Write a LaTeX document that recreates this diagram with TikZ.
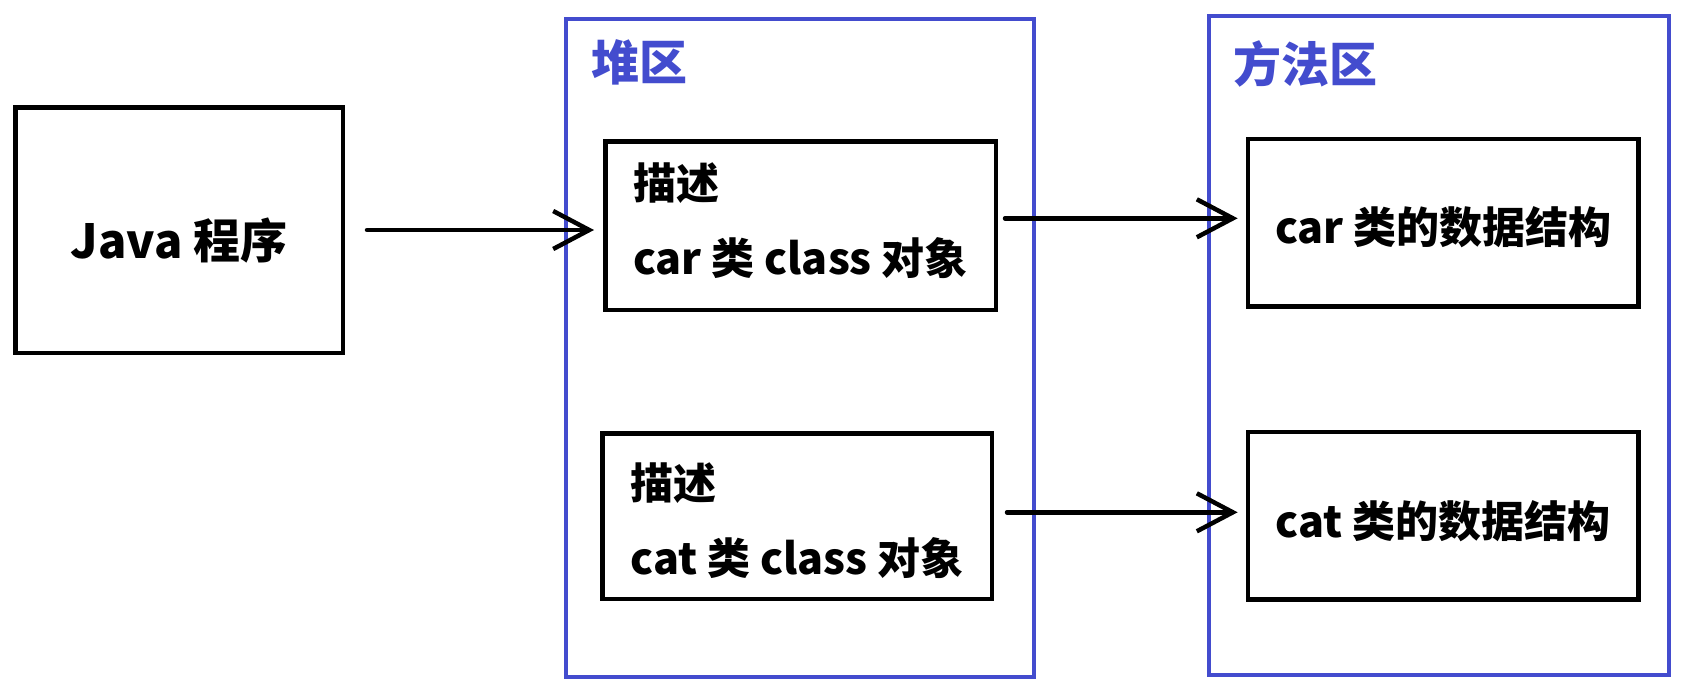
\documentclass[tikz,border=0pt]{standalone}
\usepackage{fontspec}
\newfontfamily\cjk{Noto Sans CJK SC}
\usetikzlibrary{arrows.meta, positioning}
\definecolor{areablue}{RGB}{67,76,206}

\begin{document}
\begin{tikzpicture}[
        x=1pt, y=-1pt,
        every node/.style={font=\cjk\bfseries\fontsize{43}{75}\selectfont},
        box/.style={draw, line width=4.5pt, align=left},
        area/.style={draw=areablue, line width=4pt},
        title/.style={text=areablue, inner sep=0pt, anchor=west, font=\cjk\bfseries\fontsize{48}{58}\selectfont},
        link/.style={-{Straight Barb[length=36pt, width=38pt]}, line width=4.5pt, line cap=round}
    ]
        \useasboundingbox (0,0) rectangle (1695,694);

        % program
        \node[box, minimum width=327.5pt, minimum height=245.5pt, text height=62pt, text depth=6pt, font=\cjk\bfseries\fontsize{47}{56}\selectfont] (java) at (179,230) {Java 程序};

        % heap area
        \node[area, minimum width=468pt, minimum height=658pt] (heap) at (800,348) {};
        \node[title] (heaptitle) at ([xshift=27pt, yshift=-45pt]heap.north west) {堆区};
        \node[box, minimum width=390.5pt, minimum height=168.5pt] (carobj) at (800.5,225.5) {描述\\car 类 class 对象\rule[-13pt]{0pt}{0pt}};
        \node[box, minimum width=389.5pt, minimum height=165.5pt] (catobj) at (797,516) {\rule{0pt}{47pt}描述\\cat 类 class 对象};

        % method area
        \node[area, minimum width=460pt, minimum height=658.7pt] (method) at (1438.8,345.3) {};
        \node[title] (methodtitle) at ([xshift=26pt, yshift=-50.5pt]method.north west) {方法区};
        \node[box, minimum width=390.8pt, minimum height=167.8pt, text height=46pt, text depth=5pt] (cardata) at (1443.3,222.8) {car 类的数据结构};
        \node[box, minimum width=390.8pt, minimum height=167.5pt, text height=49pt, text depth=5pt] (catdata) at (1443.3,515.7) {cat 类的数据结构};

        \draw[link, shorten <=22pt, shorten >=9pt] (java.east) -- (java.east -| carobj.west);
        \draw[link, shorten <=7pt, shorten >=8pt] ([yshift=7.2pt]carobj.east) -- ([yshift=7.2pt]carobj.east -| cardata.west);
        \draw[link, shorten <=13pt, shorten >=8pt] ([yshift=3.7pt]catobj.east) -- ([yshift=3.7pt]catobj.east -| catdata.west);
    \end{tikzpicture}
\end{document}
